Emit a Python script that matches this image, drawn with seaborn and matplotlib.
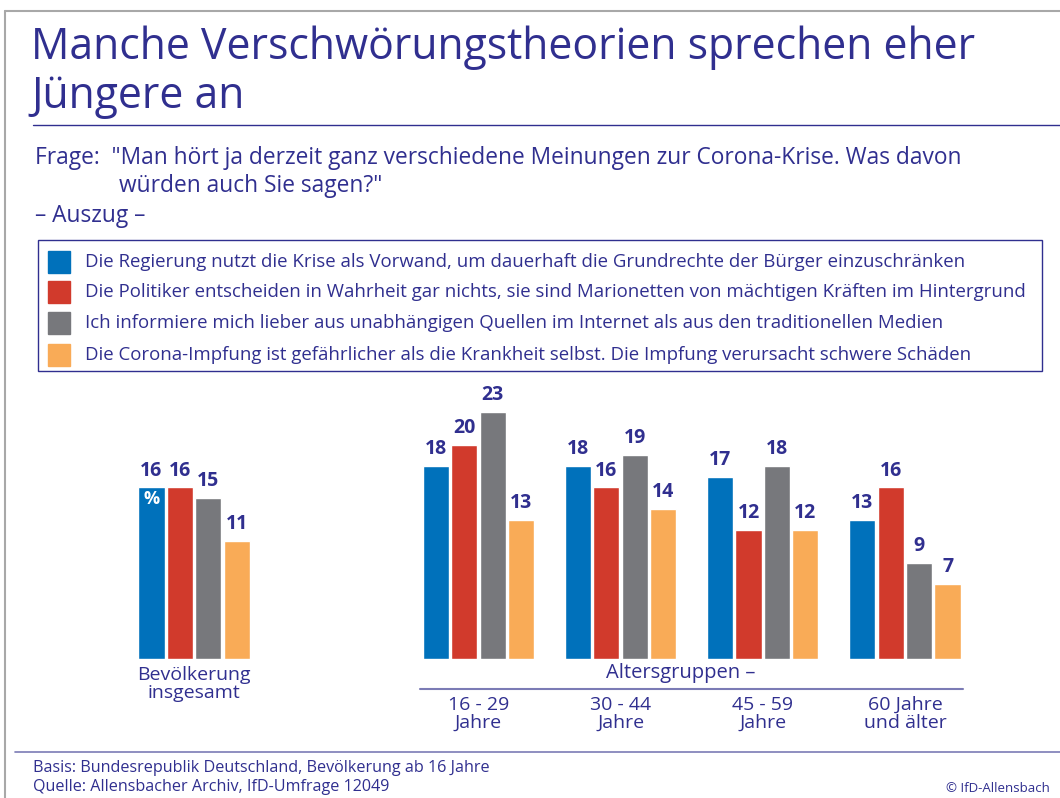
import numpy as np
import pandas as pd
import seaborn as sns
import matplotlib
matplotlib.use("Agg")
import matplotlib.pyplot as plt
from matplotlib.patches import Rectangle
from matplotlib.lines import Line2D
from matplotlib.transforms import blended_transform_factory

# --- data ---
gruppen = ["Bevölkerung insgesamt", "", "16 - 29 Jahre", "30 - 44 Jahre", "45 - 59 Jahre", "60 Jahre und älter"]
aussagen = [
    "Die Regierung nutzt die Krise als Vorwand, um dauerhaft die Grundrechte der Bürger einzuschränken",
    "Die Politiker entscheiden in Wahrheit gar nichts, sie sind Marionetten von mächtigen Kräften im Hintergrund",
    "Ich informiere mich lieber aus unabhängigen Quellen im Internet als aus den traditionellen Medien",
    "Die Corona-Impfung ist gefährlicher als die Krankheit selbst. Die Impfung verursacht schwere Schäden",
]
werte_regierung = [16, 18, 18, 17, 13]
werte_politiker = [16, 20, 16, 12, 16]
werte_internet = [15, 23, 19, 18, 9]
werte_impfung = [11, 13, 14, 12, 7]
gruppen_label = ["Bevölkerung\ninsgesamt", "", "16 - 29\nJahre", "30 - 44\nJahre", "45 - 59\nJahre", "60 Jahre\nund älter"]

farben = ["#0071bb", "#d13a2c", "#77787c", "#f9ab57"]
NAVY = "#302f8f"

rows = []
mit_daten = [g for g in gruppen if g]
for a, werte in zip(aussagen, [werte_regierung, werte_politiker, werte_internet, werte_impfung]):
    for g, w in zip(mit_daten, werte):
        rows.append({"gruppe": g, "aussage": a, "wert": w})
df = pd.DataFrame(rows)

sns.set_theme(style="white")
plt.rcParams["font.family"] = ["Open Sans", "DejaVu Sans"]

W, H = 1060, 798
fig = plt.figure(figsize=(W / 100, H / 100), dpi=100)


def fx(x):
    return x / W


def fy(y):
    return 1 - y / H


# axes placed by pixel: left 123, right 976, baseline 659, 25 units -> 268 px
ax = fig.add_axes([fx(123), fy(659), fx(976) - fx(123), (659 - 391) / H])
sns.barplot(data=df, x="gruppe", y="wert", hue="aussage", order=gruppen, hue_order=aussagen,
            palette=farben, width=0.8, gap=0.08, saturation=1, legend=False, ax=ax)
ax.set_ylim(0, 25)
ax.set_xlim(-0.5, 5.5)
ax.axis("off")

for cont in ax.containers:
    ax.bar_label(cont, fmt="%d", padding=5, fontsize=14, fontweight="bold", color=NAVY)

# % sign inside first bar
first = ax.containers[0][0]
ax.annotate("%", (first.get_x() + first.get_width() / 2, first.get_height()),
            xytext=(0, -2), textcoords="offset points", ha="center", va="top",
            color="white", fontsize=13, fontweight="bold")

# group labels under the bars
tr = blended_transform_factory(ax.transData, fig.transFigure)
for i, lab in enumerate(gruppen_label):
    if not lab:
        continue
    y = 684 if i == 0 else 714
    ax.text(i, fy(y), lab, ha="center", va="center", transform=tr, fontsize=14,
            color=NAVY, linespacing=0.98)
fig.text(fx(681), fy(673), "Altersgruppen –", ha="center", va="center", fontsize=14.5, color=NAVY)
fig.add_artist(Line2D([fx(420), fx(963)], [fy(689), fy(689)], color="#7b7bb5", lw=1.5))

# frame lines
fig.add_artist(Line2D([fx(5), fx(1060)], [fy(11), fy(11)], color="#a8a8a8", lw=1.5))
fig.add_artist(Line2D([fx(5), fx(5)], [fy(11), fy(798)], color="#a8a8a8", lw=1.5))

# title
fig.text(fx(31), fy(48), "Manche Verschwörungstheorien sprechen eher", fontsize=30.8, color=NAVY,
         ha="left", va="center")
fig.text(fx(31), fy(97), "Jüngere an", fontsize=30.8, color=NAVY, ha="left", va="center")
fig.add_artist(Line2D([fx(33), fx(1060)], [fy(125), fy(125)], color=NAVY, lw=1))

fig.text(fx(35), fy(158), 'Frage:  "Man hört ja derzeit ganz verschiedene Meinungen zur Corona-Krise. Was davon',
         fontsize=16.4, color=NAVY, ha="left", va="center")
fig.text(fx(119), fy(186), 'würden auch Sie sagen?"', fontsize=16.4, color=NAVY, ha="left", va="center")
fig.text(fx(35), fy(216), "– Auszug –", fontsize=16.4, color=NAVY, ha="left", va="center")

# legend box
fig.add_artist(Rectangle((fx(38), fy(371)), fx(1042) - fx(38), (371 - 240) / H,
                         fill=False, edgecolor=NAVY, lw=1, transform=fig.transFigure))
for i, (a, c) in enumerate(zip(aussagen, farben)):
    yc = [262, 292, 323, 355][i]
    fig.add_artist(Rectangle((fx(48), fy(yc + 11)), fx(22), 22 / H, color=c,
                             transform=fig.transFigure))
    fig.text(fx(85), fy(yc), a, fontsize=13.4, color=NAVY, ha="left", va="center")

# footer
fig.add_artist(Line2D([fx(15), fx(1060)], [fy(752), fy(752)], color="#7b7bb5", lw=1.2))
fig.text(fx(33), fy(768), "Basis: Bundesrepublik Deutschland, Bevölkerung ab 16 Jahre",
         fontsize=11.6, color=NAVY, ha="left", va="center")
fig.text(fx(33), fy(787), "Quelle: Allensbacher Archiv, IfD-Umfrage 12049",
         fontsize=11.6, color=NAVY, ha="left", va="center")
fig.text(fx(1050), fy(788), "© IfD-Allensbach", fontsize=9.5, color=NAVY, ha="right", va="center")

fig.savefig("out.png", dpi=100)
